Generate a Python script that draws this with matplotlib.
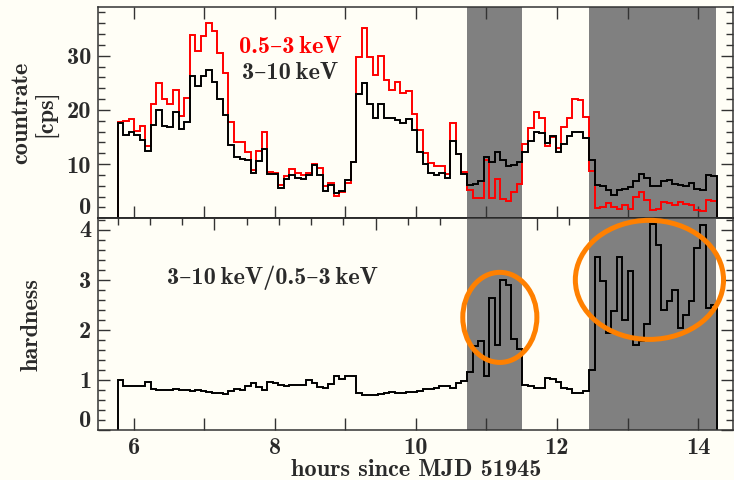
import numpy as np
import matplotlib.pyplot as plt
from matplotlib.patches import Ellipse
from matplotlib.ticker import FixedLocator, MultipleLocator, FuncFormatter
import matplotlib.transforms as mtransforms

plt.rcParams['font.family'] = ['cmb10', 'DejaVu Serif']
plt.rcParams['axes.unicode_minus'] = False

# light curve binning (hours since MJD 51945)
t_start = 5.773
t_bin = 0.0786

# 3-10 keV count rate [cps]
hard_rate = [17.6, 15.4, 16.0, 15.4, 14.5, 12.5, 17.3, 20.0, 17.1, 16.8,
             19.7, 16.5, 17.7, 26.3, 24.4, 26.2, 27.3, 25.2, 22.0, 19.1,
             13.6, 11.4, 10.9, 10.7, 8.3, 10.5, 12.8, 8.2, 8.2, 5.6,
             7.2, 8.0, 7.4, 7.2, 8.0, 9.9, 8.0, 5.1, 6.2, 4.6,
             5.1, 7.1, 10.3, 23.0, 24.9, 21.0, 18.5, 21.1, 18.5, 18.5,
             18.2, 17.6, 18.3, 16.3, 12.3, 10.1, 8.4, 8.0, 8.3, 7.4,
             14.3, 11.8, 8.2, 6.1, 6.4, 6.8, 11.4, 10.3, 12.3, 10.8,
             9.7, 9.9, 10.3, 12.3, 14.3, 16.0, 15.7, 13.9, 15.1, 12.3,
             13.8, 15.2, 16.0, 15.9, 14.8, 10.7, 6.2, 5.9, 5.3, 4.3,
             5.2, 5.4, 5.7, 6.8, 8.2, 7.5, 5.9, 5.9, 6.9, 7.1,
             6.3, 6.2, 5.9, 6.6, 5.4, 5.3, 8.0, 7.8]

# 0.5-3 keV count rate [cps]
soft_rate = [17.8, 18.0, 18.3, 16.2, 17.1, 13.3, 21.1, 24.9, 22.0, 21.1,
             23.6, 18.9, 22.2, 33.8, 30.8, 33.7, 36.1, 34.6, 30.5, 26.8,
             17.7, 14.0, 14.0, 12.3, 8.9, 12.5, 16.0, 8.6, 8.3, 6.2,
             7.8, 9.1, 8.3, 8.0, 8.3, 10.0, 9.3, 5.9, 6.5, 4.2,
             4.9, 6.6, 10.3, 29.8, 35.1, 29.7, 26.5, 29.9, 25.5, 23.6,
             25.1, 23.2, 23.4, 19.2, 16.3, 12.1, 10.2, 9.7, 9.7, 8.2,
             17.6, 11.9, 8.5, 5.2, 3.8, 3.8, 10.8, 3.8, 7.2, 3.6,
             3.2, 4.8, 6.3, 13.8, 16.6, 19.7, 18.5, 13.4, 15.0, 13.0,
             16.8, 18.6, 22.0, 21.9, 18.7, 8.8, 1.9, 2.0, 2.8, 2.0,
             1.8, 2.5, 1.7, 4.0, 4.8, 3.4, 1.5, 1.7, 3.0, 2.8,
             2.4, 3.0, 2.6, 2.5, 1.6, 1.3, 3.3, 3.2]

# hardness ratio 3-10 keV / 0.5-3 keV
hardness = [0.99, 0.88, 0.88, 0.88, 0.88, 0.95, 0.82, 0.80, 0.79, 0.79,
            0.82, 0.80, 0.80, 0.78, 0.79, 0.77, 0.76, 0.74, 0.73, 0.72,
            0.77, 0.82, 0.80, 0.88, 0.93, 0.85, 0.80, 0.95, 0.93, 0.89,
            0.88, 0.89, 0.89, 0.90, 1.00, 0.93, 0.85, 0.84, 0.92, 1.07,
            1.02, 1.07, 1.08, 0.74, 0.70, 0.70, 0.70, 0.71, 0.74, 0.76,
            0.73, 0.73, 0.76, 0.76, 0.77, 0.82, 0.82, 0.84, 0.88, 0.87,
            0.84, 0.93, 0.97, 1.15, 1.67, 1.78, 1.08, 2.63, 1.70, 2.99,
            2.90, 1.82, 1.61, 0.90, 0.87, 0.83, 0.83, 1.03, 1.01, 0.95,
            0.83, 0.82, 0.73, 0.73, 0.78, 1.20, 3.46, 2.98, 1.93, 2.38,
            3.46, 2.20, 3.17, 1.70, 1.77, 2.12, 4.11, 3.70, 2.40, 2.57,
            2.80, 2.03, 2.30, 2.57, 3.63, 4.10, 2.43, 2.50]

# intervals of hard emission (shaded)
hard_windows = [(10.73, 11.51), (12.46, 14.26)]
# highlighted hardness flares: centre x, centre y, width, height
flare_rings = [(11.19, 2.25, 1.05, 1.80), (13.31, 3.00, 2.10, 2.38)]

edges = t_start + t_bin * np.arange(len(hard_rate) + 1)

bg = '#fffef6'
ink = '#2a2a2a'
fs = 17.5

fig = plt.figure(figsize=(7.34, 4.8), dpi=100, facecolor=bg)
ax1 = fig.add_axes([0.1339, 0.5452, 0.8653, 0.4392])
ax2 = fig.add_axes([0.1339, 0.1042, 0.8653, 0.4410])

for ax in (ax1, ax2):
    ax.set_facecolor(bg)
    ax.set_xlim(5.5, 14.5)
    for x0, x1 in hard_windows:
        ax.axvspan(x0, x1, color='#808080', lw=0, zorder=0.5)
    for s in ax.spines.values():
        s.set_linewidth(1.1)
        s.set_color('#333333')
        s.set_zorder(4)
    ax.tick_params(which='both', direction='in', right=True, color='#333333',
                   labelcolor=ink, labelsize=fs, width=1.0, pad=5)
    ax.tick_params(which='major', length=8.5)
    ax.tick_params(which='minor', length=5)

# count rates
ax1.stairs(soft_rate, edges, baseline=0, color='#ff0000', lw=1.4, zorder=2)
ax1.stairs(hard_rate, edges, baseline=0, color='black', lw=1.4, zorder=3)
ax1.set_ylim(0, 38.9)
ax1.yaxis.set_major_locator(FixedLocator([0, 10, 20, 30]))
ax1.yaxis.set_minor_locator(MultipleLocator(2))
ax1.xaxis.set_major_locator(MultipleLocator(1))
ax1.tick_params(axis='x', top=True, labelbottom=False)
ax1.set_ylabel('countrate\n[cps]', fontsize=fs, color=ink, labelpad=6,
               linespacing=1.1)
ax1.text(0.3026, 0.8126, '0.5\u20133\u2009keV', transform=ax1.transAxes,
         color='#ff0000', ha='center', va='center', fontsize=fs)
ax1.text(0.3026, 0.689, '3\u201310\u2009keV', transform=ax1.transAxes,
         color=ink, ha='center', va='center', fontsize=fs)

# hardness ratio
ax2.stairs(hardness, edges, baseline=0, color='black', lw=1.4, zorder=3)
ax2.set_ylim(0, 4.23)
ax2.yaxis.set_major_locator(FixedLocator([0, 1, 2, 3, 4]))
ax2.yaxis.set_minor_locator(MultipleLocator(0.2))
ax2.xaxis.set_major_locator(MultipleLocator(1))
ax2.xaxis.set_major_formatter(
    FuncFormatter(lambda v, p: '%d' % round(v) if round(v) % 2 == 0 else ''))
ax2.tick_params(axis='x', top=False)
ax2.set_xlabel('hours since MJD 51945', fontsize=fs, color=ink, labelpad=0)
ax2.set_ylabel('hardness', fontsize=fs, color=ink, labelpad=26)
ax2.text(0.1086, 0.718, '3\u201310\u2009keV/0.5\u20133\u2009keV',
         transform=ax2.transAxes, color=ink, ha='left', va='center', fontsize=fs)

# upper axis of the hardness panel
top_ticks = np.linspace(t_start, 14.0, 19)
sec = ax2.secondary_xaxis('top')
sec.xaxis.set_major_locator(FixedLocator(top_ticks[3::5]))
sec.xaxis.set_minor_locator(FixedLocator(np.delete(top_ticks, np.s_[3::5])))
sec.tick_params(which='both', direction='in', labeltop=False, color='#333333', width=1.0)
sec.tick_params(which='major', length=8.5)
sec.tick_params(which='minor', length=5)
sec.spines['top'].set_linewidth(1.1)

for cx, cy, w, h in flare_rings:
    ax2.add_patch(Ellipse((cx, cy), w, h, fill=False, ec='#ff8000', lw=3.6,
                          clip_on=False, zorder=6))

# lift the end labels clear of the panel boundaries
def lift(label, px):
    label.set_transform(label.get_transform() +
                        mtransforms.ScaledTranslation(0, px / 100, fig.dpi_scale_trans))

lab1 = ax1.get_yticklabels()
lift(lab1[0], 13)
lab2 = ax2.get_yticklabels()
lift(lab2[0], 11)
lift(lab2[-1], 1)

fig.savefig('out.png', dpi=100, facecolor=bg)
